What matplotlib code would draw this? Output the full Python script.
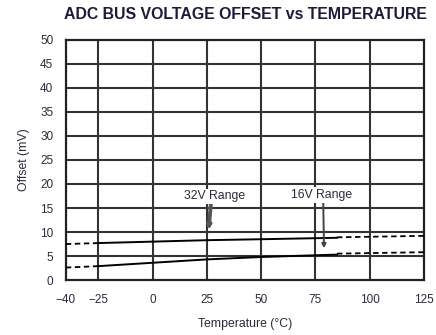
import matplotlib
matplotlib.use("Agg")
import matplotlib.pyplot as plt
import numpy as np

plt.rcParams['font.family'] = ['Liberation Sans', 'DejaVu Sans']

# measured range (solid)
temp_solid = [-25, 0, 25, 50, 85]
offset_32v = [7.7, 8.0, 8.3, 8.5, 8.8]
offset_16v = [2.9, 3.6, 4.3, 4.8, 5.3]

# extrapolated (dashed)
temp_cold = [-40, -25]
offset_32v_cold = [7.5, 7.7]
offset_16v_cold = [2.6, 2.9]
temp_hot = [85, 125]
offset_32v_hot = [8.9, 9.2]
offset_16v_hot = [5.5, 5.8]

xticks = [-40, -25, 0, 25, 50, 75, 100, 125]
yticks = np.arange(0, 51, 5)

txt = '#2a2a3a'

fig = plt.figure(figsize=(4.36, 3.35), dpi=100)
ax = fig.add_axes([0.151, 0.164, 0.821, 0.717])

for x in xticks[1:-1]:
    ax.axvline(x, color='#333333', lw=1.5, zorder=1)
for y in yticks[1:-1]:
    ax.axhline(y, color='#333333', lw=1.5, zorder=1)

ax.plot(temp_solid, offset_32v, color='black', lw=1.4, zorder=3)
ax.plot(temp_solid, offset_16v, color='black', lw=1.4, zorder=3)
for tx, v32, v16 in [(temp_cold, offset_32v_cold, offset_16v_cold),
                     (temp_hot, offset_32v_hot, offset_16v_hot)]:
    ax.plot(tx, v32, color='black', lw=1.3, ls=(0, (3, 2)), zorder=3)
    ax.plot(tx, v16, color='black', lw=1.3, ls=(0, (3, 2)), zorder=3)

ax.annotate('32V Range', xy=(25.8, 10.4), xytext=(28.6, 17.4),
            ha='center', va='center', fontsize=8.8, color=txt, zorder=5,
            bbox=dict(boxstyle='square,pad=0.15', fc='white', ec='none'),
            arrowprops=dict(arrowstyle='-|>', color='#555555', lw=2.8,
                            mutation_scale=5, shrinkA=0, shrinkB=0,
                            relpos=(0.44, 0)))
ax.annotate('16V Range', xy=(79, 6.6), xytext=(77.8, 17.7),
            ha='center', va='center', fontsize=8.8, color=txt, zorder=5,
            bbox=dict(boxstyle='square,pad=0.15', fc='white', ec='none'),
            arrowprops=dict(arrowstyle='-|>', color='#444444', lw=1.4,
                            mutation_scale=6, shrinkA=0, shrinkB=0,
                            relpos=(0.53, 0)))

ax.set_xlim(-40, 125)
ax.set_ylim(0, 50)
ax.set_xticks(xticks)
ax.set_yticks(yticks)
ax.set_xticklabels(['\u221240', '\u221225'] + [str(x) for x in xticks[2:]])
ax.tick_params(length=0, labelsize=8.5, colors=txt)
ax.tick_params(axis='x', pad=10)
ax.tick_params(axis='y', pad=9)
for s in ax.spines.values():
    s.set_linewidth(1.6)
    s.set_color('#222222')

ax.set_xlabel('Temperature (\u00b0C)', fontsize=8.8, color=txt, labelpad=9)
ax.set_ylabel('Offset (mV)', fontsize=8.8, color=txt, labelpad=7)
fig.text(0.562, 0.957, 'ADC BUS VOLTAGE OFFSET vs TEMPERATURE', ha='center',
         va='center', fontsize=11.4, fontweight='bold', color='#1c1c3a')

fig.savefig('out.png', dpi=100)
